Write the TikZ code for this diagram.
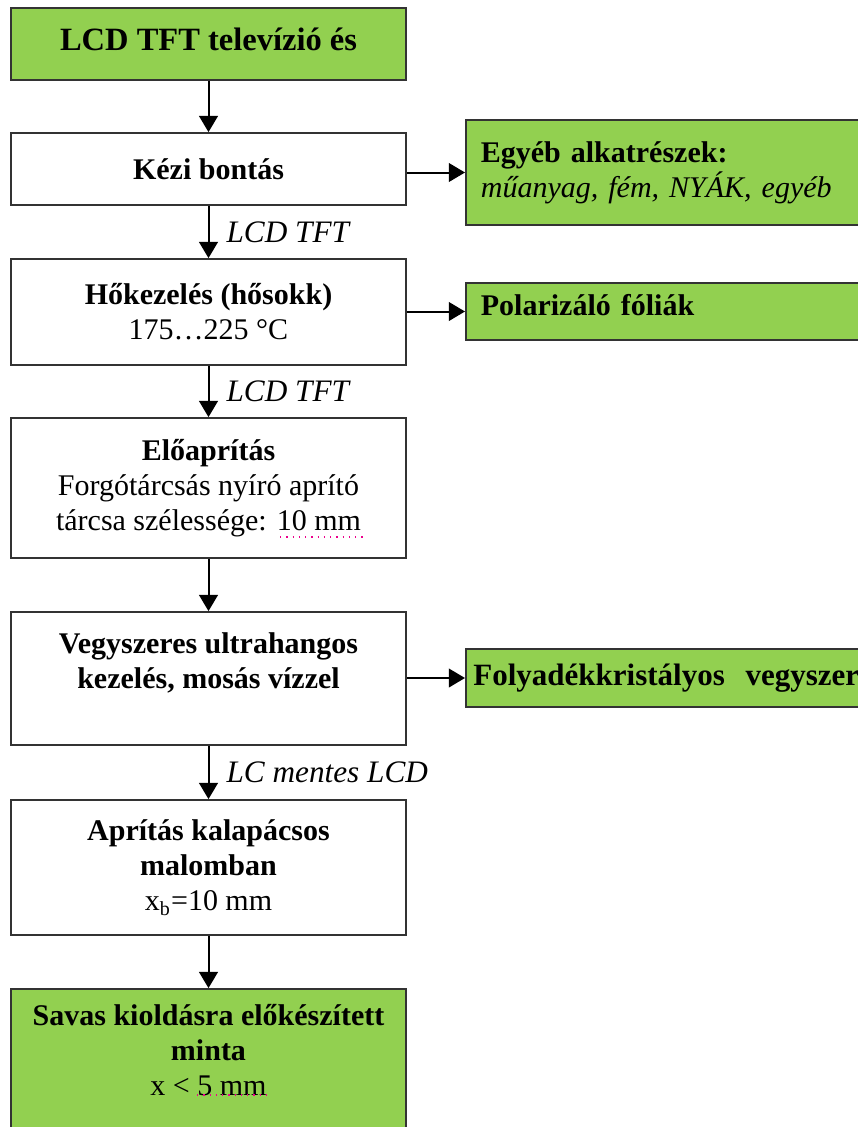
\documentclass[tikz,border=0pt]{standalone}
\usepackage{fontspec}
\setmainfont{Liberation Serif}
\usetikzlibrary{arrows.meta}
\definecolor{boxgreen}{RGB}{146,208,80}

\begin{document}
\begin{tikzpicture}[x=0.4pt, y=-0.4pt,
    every node/.style={font=\fontsize{12}{14}\selectfont},
    stepbox/.style={draw=black!80, line width=0.7pt, minimum width=158pt, align=center, inner sep=2pt},
    outbox/.style={draw=black!80, line width=0.7pt, fill=boxgreen, anchor=west, minimum width=168pt,
                   text width=156pt, inner xsep=6pt, align=left},
    arr/.style={line width=0.8pt, -{Triangle[width=7.5pt,length=6.5pt]}},
    flow/.style={right, xshift=3.5pt, font=\fontsize{12.5}{14}\selectfont\itshape},
    spell/.style={magenta, line width=0.5pt, dotted}]
         \useasboundingbox (0,0) rectangle (858,1127);
         \clip (0,0) rectangle (858,1127);
         % main line
         \node [stepbox, fill=boxgreen, minimum height=28.8pt, text depth=3.5pt,
                font=\fontsize{13}{14}\selectfont] (SRC) at (208.5, 44) {\bfseries LCD TFT televízió és};
         \node [stepbox, minimum height=28.8pt] (KB) at (208.5, 169) {\bfseries Kézi bontás};
         \node [stepbox, minimum height=42.4pt] (HK) at (208.5, 312) {\bfseries Hőkezelés (hősokk)\\175…225 °C};
         \node [stepbox, minimum height=56pt] (EA) at (208.5, 488) {\bfseries Előaprítás\\Forgótárcsás nyíró aprító\\tárcsa szélessége: 10 mm};
         \node [stepbox, minimum height=53.2pt] (VU) at (208.5, 678.5) {\bfseries Vegyszeres ultrahangos\\\bfseries kezelés, mosás vízzel\\\mbox{}};
         \node [stepbox, minimum height=54pt] (AK) at (208.5, 867.5) {\bfseries Aprítás kalapácsos\\\bfseries malomban\\x\textsubscript{b}=10 mm};
         \node [stepbox, fill=boxgreen, minimum height=62.4pt] (SM) at (208.5, 1067) {\bfseries Savas kioldásra előkészített\\\bfseries minta\\x < 5 mm\\\mbox{}};
         % side products
         \node [outbox, minimum height=42pt] (EG) at (465, 172.5) {\textbf{Egyéb alkatrészek:}\\\textit{műanyag, fém, NYÁK, egyéb}};
         \node [outbox, minimum height=22.8pt, text depth=5pt] (PF) at (465, 311.5) {\bfseries Polarizáló fóliák};
         \node [outbox, minimum height=23.2pt, inner xsep=3pt, text width=162pt,
                font=\fontsize{12.4}{14}\selectfont] (FV) at (465, 678) {\bfseries Folyadékkristályos\ \ vegyszer};
         \draw [arr] (SRC) -- (KB);
         \draw [arr] (KB) -- node [flow] {LCD TFT} (HK);
         \draw [arr] (HK) -- node [flow] {LCD TFT} (EA);
         \draw [arr] (EA) -- (VU);
         \draw [arr] (VU) -- node [flow] {LC mentes LCD} (AK);
         \draw [arr] (AK) -- (SM);
         \draw [arr] (KB.east |- EG.west) -- (EG.west);
         \draw [arr] (HK.east |- PF.west) -- (PF.west);
         \draw [arr] (VU.east |- FV.west) -- (FV.west);
         \draw [spell] (280, 537) -- (365, 537);
         \draw [spell] (197, 1095) -- (268, 1095);
\end{tikzpicture}
\end{document}
